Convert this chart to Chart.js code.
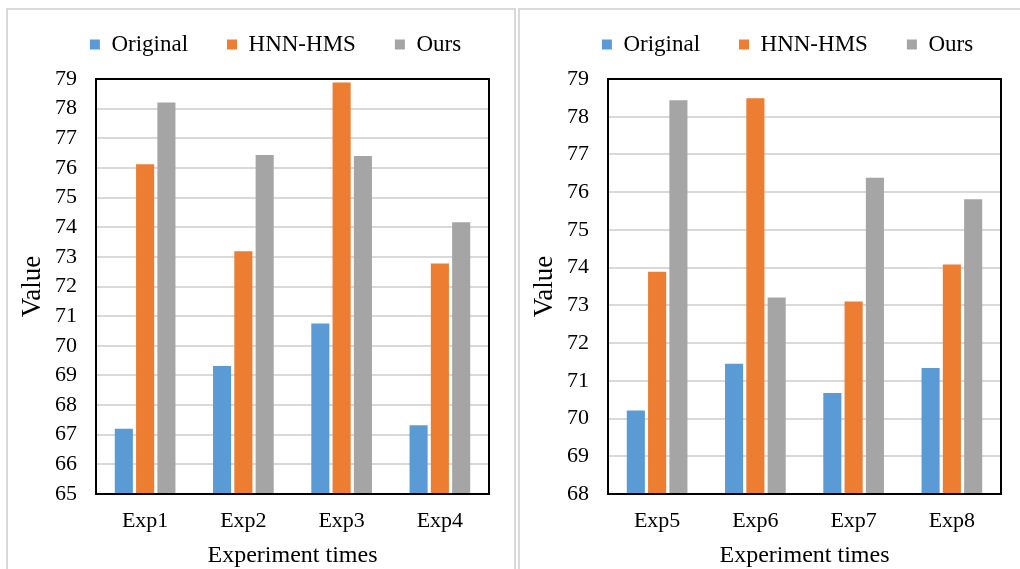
<!DOCTYPE html>
<html lang="en">
  <head>
    <meta charset="UTF-8" />
    <title>Experiment times</title>
    <script src="https://cdn.jsdelivr.net/npm/chart.js"></script>
    <style>
      body { margin: 0; background: #fff; overflow: hidden; width: 1020px; height: 569px; position: relative; }
      .panel { position: absolute; top: 8px; width: 510px; height: 580px; border: 2px solid #d9d9d9; box-sizing: border-box; }
      .panel canvas { position: absolute; left: 0; top: 0; }
    </style>
  </head>
  <body>
    <div class="panel" style="left: 6px"><canvas id="left" width="506" height="570"></canvas></div>
    <div class="panel" style="left: 518px"><canvas id="right" width="506" height="570"></canvas></div>
    <script>
      const seriesNames = ["Original", "HNN-HMS", "Ours"];
      const colors = ["#5b9bd5", "#ed7d31", "#a5a5a5"];

      const leftLabels = ["Exp1", "Exp2", "Exp3", "Exp4"];
      const leftOriginal = [67.2, 69.32, 70.75, 67.32];
      const leftHnn = [76.12, 73.19, 78.88, 72.78];
      const leftOurs = [78.21, 76.44, 76.4, 74.17];

      const rightLabels = ["Exp5", "Exp6", "Exp7", "Exp8"];
      const rightOriginal = [70.21, 71.45, 70.68, 71.34];
      const rightHnn = [73.89, 78.49, 73.1, 74.08];
      const rightOurs = [78.44, 73.21, 76.38, 75.81];

      const font = "'Liberation Serif', 'Times New Roman', serif";
      const ink = "#000";

      // legend box is forced to the plot top, then slid to where the text sits
      const legendFix = {
        id: "legendFix",
        beforeLayout(chart) {
          const lg = chart.legend;
          if (lg && !lg._fixed) {
            const fit = lg.fit.bind(lg);
            lg.fit = function () { fit(); this.height = 69; };
            lg._fixed = true;
          }
        },
        afterLayout(chart) {
          const lg = chart.legend;
          lg.top = -16;
          lg.left += 27;
          lg.right += 27;
        },
      };

      const frame = {
        id: "frame",
        afterDatasetsDraw(chart) {
          const { ctx, chartArea: a } = chart;
          ctx.save();
          ctx.strokeStyle = "#000";
          ctx.lineWidth = 2;
          ctx.strokeRect(a.left, a.top, a.right - a.left, a.bottom - a.top);
          ctx.restore();
        },
      };

      function makeChart(id, labels, rows, min, max) {
        return new Chart(document.getElementById(id), {
          type: "bar",
          data: {
            labels,
            datasets: rows.map((d, i) => ({
              label: seriesNames[i],
              data: d,
              backgroundColor: colors[i],
              borderWidth: 0,
              categoryPercentage: 0.65,
              barPercentage: 0.85,
            })),
          },
          options: {
            responsive: false,
            animation: false,
            devicePixelRatio: 1,
            layout: { padding: { left: 0, right: 25, top: 0, bottom: 0 } },
            plugins: {
              tooltip: { enabled: false },
              legend: {
                position: "top",
                labels: {
                  boxWidth: 10,
                  boxHeight: 10,
                  padding: 39,
                  color: ink,
                  font: { family: font, size: 23 },
                },
              },
            },
            scales: {
              x: {
                grid: { display: false, drawTicks: false },
                border: { display: false },
                ticks: { color: ink, padding: 14, font: { family: font, size: 22 } },
                title: {
                  display: true,
                  text: "Experiment times",
                  color: ink,
                  padding: { top: 0, bottom: 10 },
                  font: { family: font, size: 24 },
                },
                afterFit(s) { s.height = 86; },
              },
              y: {
                min,
                max,
                grid: { color: "#d9d9d9", lineWidth: 2, drawTicks: false },
                border: { display: false },
                ticks: { stepSize: 1, color: ink, padding: 19, font: { family: font, size: 22 } },
                title: {
                  display: true,
                  text: "Value",
                  color: ink,
                  padding: { top: 9, bottom: 0 },
                  font: { family: font, size: 27 },
                },
                afterFit(s) { s.width = 88; },
              },
            },
          },
          plugins: [legendFix, frame],
        });
      }

      makeChart("left", leftLabels, [leftOriginal, leftHnn, leftOurs], 65, 79);
      makeChart("right", rightLabels, [rightOriginal, rightHnn, rightOurs], 68, 79);
    </script>
  </body>
</html>
